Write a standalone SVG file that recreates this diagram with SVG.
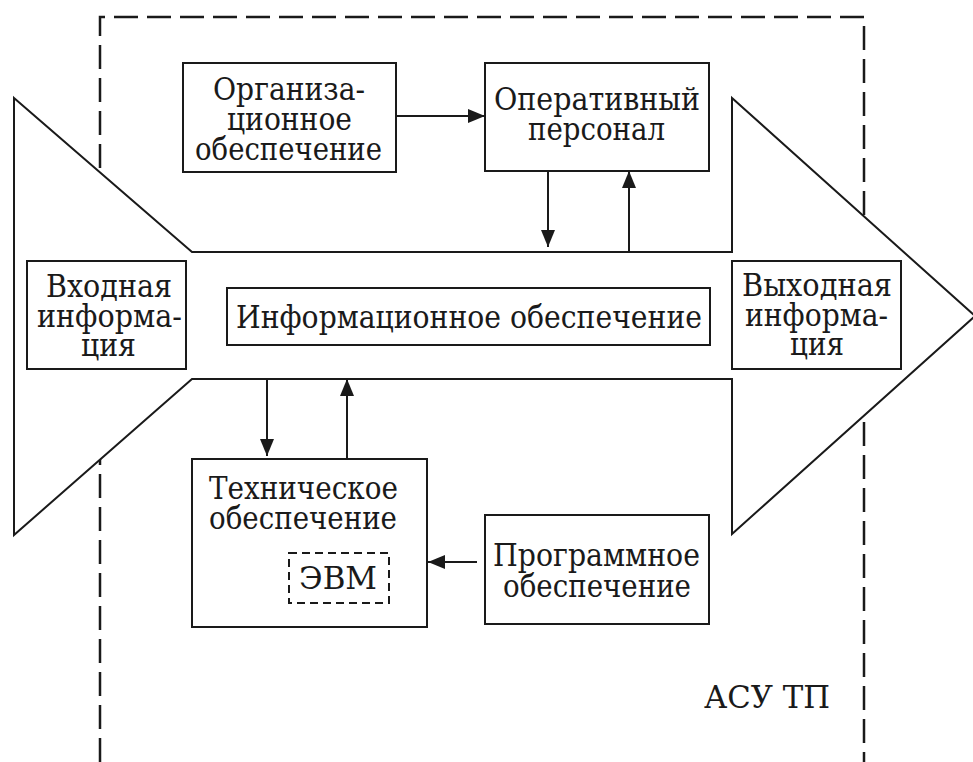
<svg xmlns="http://www.w3.org/2000/svg" width="973" height="762" viewBox="0 0 973 762">
  <style>
    .box { fill: #ffffff; stroke: #1a1a1a; stroke-width: 2; }
    .frame { fill: none; stroke: #1a1a1a; stroke-width: 2.5; stroke-dasharray: 24 9; }
    .evm { fill: none; stroke: #1a1a1a; stroke-width: 2; stroke-dasharray: 8 5; }
    .flow { fill: #ffffff; stroke: #1a1a1a; stroke-width: 2; stroke-linejoin: miter; }
    .lbl { font-family: "DejaVu Serif", serif; font-size: 31px; fill: #1a1a1a; }
    .link { stroke: #1a1a1a; stroke-width: 2; fill: none; marker-end: url(#head); }
  </style>
  <defs>
    <marker id="head" markerUnits="userSpaceOnUse" markerWidth="18" markerHeight="16" refX="17" refY="7" orient="auto">
      <path d="M0,0 L17,7 L0,14 Z" fill="#1a1a1a"/>
    </marker>
  </defs>
  <rect width="973" height="762" fill="#ffffff"/>

  <!-- system boundary (ACS) -->
  <g id="asu-boundary">
    <path class="frame" d="M100,762 V17 H864 V762"/>
    <text class="lbl" x="704" y="708" textLength="126" lengthAdjust="spacingAndGlyphs">АСУ ТП</text>
  </g>

  <!-- information flow arrow -->
  <g id="info-flow">
    <polygon class="flow" points="14,98 192,252 732,252 732,98 975,316 732,534 732,379 192,379 14,535"/>
  </g>

  <g id="org">
    <rect class="box" x="183" y="63" width="213" height="109"/>
    <text class="lbl" x="213" y="100" textLength="152" lengthAdjust="spacingAndGlyphs">Организа-</text>
    <text class="lbl" x="227" y="130" textLength="125" lengthAdjust="spacingAndGlyphs">ционное</text>
    <text class="lbl" x="195" y="160" textLength="187" lengthAdjust="spacingAndGlyphs">обеспечение</text>
  </g>

  <g id="staff">
    <rect class="box" x="485" y="63" width="224" height="108"/>
    <text class="lbl" x="494" y="110" textLength="206" lengthAdjust="spacingAndGlyphs">Оперативный</text>
    <text class="lbl" x="528" y="140" textLength="137" lengthAdjust="spacingAndGlyphs">персонал</text>
  </g>

  <g id="input">
    <rect class="box" x="27" y="261" width="159" height="108"/>
    <text class="lbl" x="46" y="297" textLength="126" lengthAdjust="spacingAndGlyphs">Входная</text>
    <text class="lbl" x="37" y="327" textLength="145" lengthAdjust="spacingAndGlyphs">информа-</text>
    <text class="lbl" x="81" y="356" textLength="55" lengthAdjust="spacingAndGlyphs">ция</text>
  </g>

  <g id="infosupport">
    <rect class="box" x="227" y="288" width="483" height="57"/>
    <text class="lbl" x="236" y="328" textLength="466" lengthAdjust="spacingAndGlyphs">Информационное обеспечение</text>
  </g>

  <g id="output">
    <rect class="box" x="732" y="261" width="169" height="108"/>
    <text class="lbl" x="742" y="296" textLength="150" lengthAdjust="spacingAndGlyphs">Выходная</text>
    <text class="lbl" x="745" y="326" textLength="143" lengthAdjust="spacingAndGlyphs">информа-</text>
    <text class="lbl" x="790" y="355" textLength="54" lengthAdjust="spacingAndGlyphs">ция</text>
  </g>

  <g id="hardware">
    <rect class="box" x="192" y="459" width="235" height="168"/>
    <text class="lbl" x="209" y="499" textLength="189" lengthAdjust="spacingAndGlyphs">Техническое</text>
    <text class="lbl" x="209" y="529" textLength="188" lengthAdjust="spacingAndGlyphs">обеспечение</text>
    <g id="computer">
      <rect class="evm" x="289" y="553" width="100" height="50"/>
      <text class="lbl" x="299" y="589" textLength="78" lengthAdjust="spacingAndGlyphs">ЭВМ</text>
    </g>
  </g>

  <g id="software">
    <rect class="box" x="485" y="515" width="224" height="109"/>
    <text class="lbl" x="493" y="566" textLength="207" lengthAdjust="spacingAndGlyphs">Программное</text>
    <text class="lbl" x="503" y="597" textLength="188" lengthAdjust="spacingAndGlyphs">обеспечение</text>
  </g>

  <g id="connectors">
    <line class="link" x1="396" y1="116" x2="485" y2="116"/>
    <line class="link" x1="548" y1="171" x2="548" y2="247"/>
    <line class="link" x1="629" y1="252" x2="629" y2="171"/>
    <line class="link" x1="267" y1="379" x2="267" y2="456"/>
    <line class="link" x1="347" y1="459" x2="347" y2="379"/>
    <line class="link" x1="477" y1="562" x2="428" y2="562"/>
  </g>
</svg>
